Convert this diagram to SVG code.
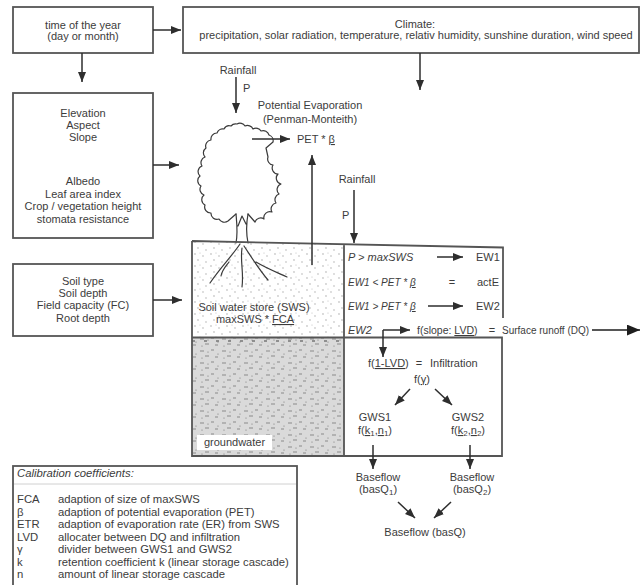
<svg xmlns="http://www.w3.org/2000/svg" width="641" height="585" viewBox="0 0 641 585">
  <style>
    text { font-family: "Liberation Sans", Arial, sans-serif; font-size: 11px; fill: #3c3c3c; }
    .c { text-anchor: middle; }
    .it { font-style: italic; }
    .cal { font-size: 11.3px; }
    .s10 { font-size: 10px; }
    .s105 { font-size: 10.5px; }
    .u { text-decoration: underline; }
    .box { fill: #fff; stroke: #555; stroke-width: 1.8; }
    .edge { fill: none; stroke: #555; stroke-width: 1.8; }
    .arrow { fill: none; stroke: #2e2e2e; stroke-width: 1.5; marker-end: url(#head); }
    .tree { fill: none; stroke: #3a3a3a; stroke-width: 1.2; stroke-linecap: round; stroke-linejoin: round; }
  </style>
  <defs>
    <marker id="head" viewBox="0 0 10 8" refX="10" refY="4" markerWidth="10" markerHeight="8" markerUnits="userSpaceOnUse" orient="auto">
      <path d="M0,0 L10,4 L0,8 Z" fill="#2e2e2e"/>
    </marker>
    <marker id="bighead" viewBox="0 0 12 10" refX="12" refY="5" markerWidth="13" markerHeight="11" markerUnits="userSpaceOnUse" orient="auto">
      <path d="M0,0 L12,5 L0,10 Z" fill="#1e1e1e"/>
    </marker>
    <!-- sparse sand stipple for the soil layer -->
    <pattern id="sand" width="16" height="12" patternUnits="userSpaceOnUse">
      <circle cx="3" cy="2" r="0.65" fill="#999"/>
      <circle cx="11" cy="4" r="0.65" fill="#a2a2a2"/>
      <circle cx="6" cy="8" r="0.65" fill="#999"/>
      <circle cx="14" cy="10" r="0.65" fill="#a2a2a2"/>
      <circle cx="8" cy="1" r="0.5" fill="#b0b0b0"/>
    </pattern>
    <!-- dashed texture for the saturated zone -->
    <pattern id="water" width="22" height="12" patternUnits="userSpaceOnUse">
      <rect width="22" height="12" fill="#dadada"/>
      <path d="M2,3h4 M13,2h3 M7,8h4 M17,9h3" stroke="#8a8a8a" stroke-width="1"/>
      <circle cx="10" cy="4" r="0.6" fill="#777"/>
      <circle cx="20" cy="6" r="0.6" fill="#777"/>
      <circle cx="4" cy="10" r="0.6" fill="#777"/>
    </pattern>
  </defs>

  <!-- time of the year -->
  <g id="time">
    <rect class="box" x="13" y="7" width="140" height="46"/>
    <text class="c" x="83" y="29">time of the year</text>
    <text class="c" x="83" y="40">(day or month)</text>
  </g>

  <!-- climate inputs -->
  <g id="climate">
    <rect class="box" x="183" y="7" width="456" height="46"/>
    <text class="c" x="415" y="28">Climate:</text>
    <text class="c" x="416" y="39">precipitation, solar radiation, temperature, relativ humidity, sunshine duration, wind speed</text>
  </g>

  <!-- terrain and vegetation parameters -->
  <g id="terrain">
    <rect class="box" x="13" y="93" width="140" height="145"/>
    <text class="c" x="83" y="117">Elevation</text>
    <text class="c" x="83" y="129">Aspect</text>
    <text class="c" x="83" y="141">Slope</text>
    <text class="c" x="83" y="185">Albedo</text>
    <text class="c" x="83" y="197.5">Leaf area index</text>
    <text class="c" x="83" y="210">Crop / vegetation height</text>
    <text class="c" x="83" y="222.5">stomata resistance</text>
  </g>

  <!-- soil parameters -->
  <g id="soilparams">
    <rect class="box" x="13" y="264" width="140" height="72"/>
    <text class="c" x="83" y="285">Soil type</text>
    <text class="c" x="83" y="297">Soil depth</text>
    <text class="c" x="83" y="309">Field capacity (FC)</text>
    <text class="c" x="83" y="322">Root depth</text>
  </g>

  <!-- soil column: soil water store above groundwater -->
  <g id="soil-column">
    <polygon points="192,241 344,244.5 344,338 192,338" fill="url(#sand)"/>
    <rect x="192" y="338" width="152" height="118" fill="url(#water)"/>
    <path d="M192,341 H344" stroke="#777" stroke-width="1.4" stroke-dasharray="3 9"/>
    <text class="c" x="254" y="311">Soil water store (SWS)</text>
    <text class="c" x="255" y="323">maxSWS * <tspan class="u">FCA</tspan></text>
    <rect x="197" y="435" width="75" height="15" fill="#fff"/>
    <text class="c" x="234.5" y="446">groundwater</text>
  </g>

  <!-- tree: crown, trunk and roots -->
  <g id="tree">
    <path class="tree" d="M248,214 L255,222 A6,6 0 0 1 264,219 A6,6 0 0 1 272,212 A6,6 0 0 1 276,203 A6,6 0 0 1 279,194 A6,6 0 0 1 281,184 A6,6 0 0 1 278,174 A6,6 0 0 1 273,165 A6,6 0 0 1 268,157 L266,148 L273,142 A6,6 0 0 0 269,135 A6,6 0 0 0 261,131 A6,6 0 0 0 253,129 A6,6 0 0 0 245,126 A6,6 0 0 0 237,124 A6,6 0 0 0 231,126 A6,6 0 0 0 224,129 A6,6 0 0 0 217,133 A6,6 0 0 0 211,140 A6,6 0 0 0 206,148 A6,6 0 0 0 205,157 A6,6 0 0 0 202,166 A6,6 0 0 0 200,176 A6,6 0 0 0 201,186 A6,6 0 0 0 204,195 A6,6 0 0 0 205,205 A6,6 0 0 0 211,213 A6,6 0 0 0 219,219 A6,6 0 0 0 228,221 L236,214"/>
    <path class="tree" d="M236,214 C237,225 238,233 236,243 M248,214 C246,225 246,233 248,243 M238,226 L242,216 L246,224"/>
    <path class="tree" d="M240,244 C232,256 220,268 210,283 M242,248 C240,262 244,272 242,287 M244,246 C252,258 258,268 268,280 M256,262 C266,268 276,272 287,277 M229,262 C226,266 222,270 221,276"/>
    <text class="c" x="238" y="74">Rainfall</text>
    <text x="243" y="92">P</text>
    <text class="c" x="310" y="109">Potential Evaporation</text>
    <text class="c" x="310" y="123">(Penman-Monteith)</text>
    <text x="297" y="143">PET * <tspan class="u">β</tspan></text>
    <text class="c" x="357" y="183">Rainfall</text>
    <text x="342" y="219">P</text>
  </g>

  <!-- water balance equations of the soil layer -->
  <g id="balance">
    <text class="it" x="348" y="261">P &gt; maxSWS</text>
    <text x="476" y="261">EW1</text>
    <text class="it s10" x="348" y="286">EW1 &lt; PET * <tspan class="u">β</tspan></text>
    <text class="c" x="452" y="286">=</text>
    <text x="477" y="286">actE</text>
    <text class="it s10" x="348" y="310">EW1 &gt; PET * <tspan class="u">β</tspan></text>
    <text x="476" y="310">EW2</text>
    <text class="it" x="348" y="334">EW2</text>
    <text class="s105" x="417" y="334">f(slope: <tspan class="u">LVD</tspan>)</text>
    <text class="c" x="492" y="334">=</text>
    <text class="s10" x="502" y="334">Surface runoff (DQ)</text>
  </g>

  <!-- infiltration and groundwater stores -->
  <g id="groundwater-stores">
    <text x="368" y="367">f(<tspan class="u">1-LVD</tspan>)</text>
    <text class="c" x="419" y="367">=</text>
    <text x="430" y="367">Infiltration</text>
    <text class="c" x="422" y="383">f(<tspan class="u">γ</tspan>)</text>
    <text class="c" x="375" y="421">GWS1</text>
    <text class="c" x="375" y="434">f(<tspan class="u">k</tspan><tspan font-size="8" dy="2">1</tspan><tspan dy="-2">,</tspan><tspan class="u">n</tspan><tspan font-size="8" dy="2">1</tspan><tspan dy="-2">)</tspan></text>
    <text class="c" x="468" y="421">GWS2</text>
    <text class="c" x="468" y="434">f(<tspan class="u">k</tspan><tspan font-size="8" dy="2">2</tspan><tspan dy="-2">,</tspan><tspan class="u">n</tspan><tspan font-size="8" dy="2">2</tspan><tspan dy="-2">)</tspan></text>
  </g>

  <!-- baseflow components -->
  <g id="baseflow">
    <text class="c" x="378" y="481">Baseflow</text>
    <text class="c" x="378" y="493">(basQ<tspan font-size="8" dy="2">1</tspan><tspan dy="-2">)</tspan></text>
    <text class="c" x="472" y="481">Baseflow</text>
    <text class="c" x="472" y="493">(basQ<tspan font-size="8" dy="2">2</tspan><tspan dy="-2">)</tspan></text>
    <text class="c" x="425" y="536">Baseflow (basQ)</text>
  </g>

  <!-- column outlines -->
  <g id="outlines">
    <path class="edge" d="M192,241 L503,247.5 V318 M192,241 V456 H502 V337.5 H192 M344,244 V456"/>
  </g>

  <!-- calibration coefficients -->
  <g id="calibration">
    <rect class="box" x="13" y="466" width="284" height="130"/>
    <path d="M14,484 H296" stroke="#d0d0d0" stroke-width="1"/>
    <text class="cal it" x="17" y="477">Calibration coefficients:</text>
    <text class="cal" x="17" y="503">FCA</text>
    <text class="cal" x="58" y="503">adaption of size of maxSWS</text>
    <text class="cal" x="17" y="515.5">β</text>
    <text class="cal" x="58" y="515.5">adaption of potential evaporation (PET)</text>
    <text class="cal" x="17" y="528">ETR</text>
    <text class="cal" x="58" y="528">adaption of evaporation rate (ER) from SWS</text>
    <text class="cal" x="17" y="540.5">LVD</text>
    <text class="cal" x="58" y="540.5">allocater between DQ and infiltration</text>
    <text class="cal" x="17" y="553">γ</text>
    <text class="cal" x="58" y="553">divider between GWS1 and GWS2</text>
    <text class="cal" x="17" y="565.5">k</text>
    <text class="cal" x="58" y="565.5">retention coefficient k (linear storage cascade)</text>
    <text class="cal" x="17" y="578">n</text>
    <text class="cal" x="58" y="578">amount of linear storage cascade</text>
  </g>

  <!-- connectors -->
  <g id="connectors">
    <path class="arrow" d="M153,30 H181"/>
    <path class="arrow" d="M82,53 V82"/>
    <path class="arrow" d="M420,53 V90"/>
    <path class="arrow" d="M153,165 H179"/>
    <path class="arrow" d="M153,300 H182"/>
    <path class="arrow" d="M236,77 V113"/>
    <path class="arrow" d="M252,139 H290"/>
    <path class="arrow" d="M312,265 V155"/>
    <path class="arrow" d="M354,190 V243"/>
    <path class="arrow" d="M437,257 H463"/>
    <path class="arrow" d="M428,306 H463"/>
    <path class="arrow" d="M383,330 H410"/>
    <path class="arrow" d="M383,330 V357"/>
    <path fill="none" stroke="#1e1e1e" stroke-width="1.6" marker-end="url(#bighead)" d="M592,330 H640"/>
    <path class="arrow" d="M410,389 L395,405"/>
    <path class="arrow" d="M435,389 L452,405"/>
    <path class="arrow" d="M373,445 V469"/>
    <path class="arrow" d="M470,445 V469"/>
    <path class="arrow" d="M398,502 L415,518"/>
    <path class="arrow" d="M451,502 L434,518"/>
  </g>
</svg>
